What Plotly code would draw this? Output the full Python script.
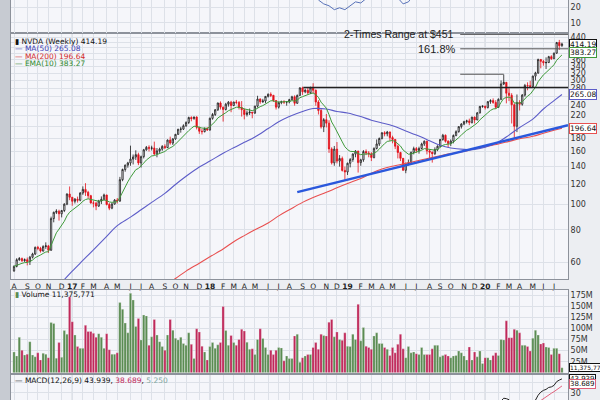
import numpy as np
import pandas as pd
import plotly.graph_objects as go

# ---- weekly NVDA candles, one entry per week from Aug 2016 to Jul 2020 ----
week_start = "2016-08-03"
first_open = 55.6

closes_2016 = [57.9, 61.4, 62.0, 60.9, 61.4, 60.4, 62.8, 64.6, 68.5, 67.9, 66.3,
               69.0, 69.4, 66.8, 88.4, 93.4, 94.3, 92.2, 94.9, 100.4, 109.8, 106.7]
highs_2016 = [58.4, 62.2, 62.9, 62.6, 62.1, 62.6, 63.5, 65.3, 69.0, 69.4, 68.8,
              69.8, 71.6, 70.0, 89.9, 94.0, 96.0, 95.6, 95.4, 101.2, 110.5, 117.4]
lows_2016 = [55.2, 57.4, 60.8, 60.2, 60.2, 58.4, 58.6, 62.1, 64.0, 66.8, 65.4,
             66.0, 67.6, 65.2, 66.4, 85.5, 92.0, 86.8, 89.3, 93.6, 99.5, 104.0]
volumes_2016 = [47, 38, 80, 51, 40, 42, 70, 40, 36, 45, 29,
                44, 42, 34, 113, 111, 33, 68, 35, 95, 87, 171]

closes_2017 = [103.0, 104.9, 103.9, 110.8, 114.4, 111.5, 108.2, 101.5, 101.3, 98.7,
               103.2, 104.8, 108.9, 100.1, 96.9, 100.5, 104.1, 103.2, 124.7, 136.4,
               141.8, 144.6, 149.6, 152.4, 155.6, 144.6, 152.9, 162.4, 166.0, 164.6,
               165.0, 156.6, 160.9, 163.4, 167.4, 165.6, 177.0, 172.4, 178.8, 186.2,
               194.8, 195.0, 200.9, 206.8, 216.1, 214.0, 217.0, 198.0, 191.5, 190.7,
               196.0, 193.5]
highs_2017 = [107.0, 106.0, 107.3, 111.7, 117.5, 120.9, 113.0, 109.0, 103.5, 102.5,
              104.3, 107.5, 110.2, 109.0, 101.5, 101.6, 105.0, 106.0, 127.8, 137.5,
              142.5, 146.0, 168.5, 155.8, 161.7, 158.3, 154.3, 163.7, 168.0, 169.0,
              168.4, 174.6, 165.0, 165.5, 169.2, 170.5, 178.0, 182.5, 180.0, 187.0,
              195.5, 199.0, 203.5, 209.0, 217.8, 218.5, 218.0, 218.5, 199.5, 195.3,
              198.0, 198.5]
lows_2017 = [99.0, 101.0, 101.8, 103.0, 109.0, 108.0, 105.5, 100.8, 97.6, 95.2,
             98.0, 100.5, 103.5, 99.3, 95.2, 96.0, 100.0, 101.0, 102.5, 123.0,
             133.8, 138.6, 141.0, 142.7, 148.5, 141.8, 138.8, 150.5, 161.0, 160.0,
             161.5, 155.0, 152.0, 158.0, 161.0, 163.5, 165.0, 170.0, 169.5, 177.5,
             185.5, 189.0, 193.5, 199.0, 204.0, 209.0, 212.0, 194.5, 187.0, 186.0,
             189.5, 192.0]
volumes_2017 = [115, 85, 59, 55, 55, 107, 93, 93, 89, 80, 88, 80, 55, 88, 52, 42, 42, 45,
                158, 143, 112, 90, 179, 164, 104, 122, 74, 130, 128, 62, 81, 120, 85, 70,
                59, 51, 85, 120, 96, 78, 74, 80, 66, 62, 90, 64, 32, 99, 92, 60, 47, 29]

closes_2018 = [214.6, 222.0, 231.4, 245.8, 236.9, 232.1, 243.1, 247.6, 240.4, 247.9,
               247.0, 236.0, 231.6, 222.0, 225.2, 226.6, 224.9, 239.0, 254.5, 248.5,
               250.1, 260.6, 265.4, 263.0, 251.2, 236.9, 246.5, 248.6, 247.8, 248.2,
               253.2, 259.6, 245.2, 262.8, 281.0, 271.4, 275.0, 269.0, 281.0, 275.0,
               248.0, 230.0, 199.0, 212.0, 205.6, 163.7, 144.7, 163.4, 147.0, 150.4,
               135.3, 133.5]
highs_2018 = [216.0, 225.0, 233.0, 246.5, 249.3, 238.0, 246.0, 250.0, 250.5, 248.5,
              252.5, 250.0, 250.0, 234.0, 230.0, 234.0, 227.0, 240.0, 262.0, 256.0,
              255.0, 261.0, 267.5, 270.0, 264.0, 252.0, 249.0, 251.0, 252.0, 250.0,
              255.0, 262.0, 263.0, 265.0, 282.5, 284.0, 279.0, 281.0, 284.0, 292.8,
              277.0, 252.0, 233.0, 215.0, 223.0, 211.0, 166.0, 168.0, 174.0, 155.0,
              153.0, 140.0]
lows_2018 = [192.5, 212.0, 219.0, 229.0, 232.0, 208.5, 230.0, 238.0, 226.5, 239.0,
             243.0, 232.0, 218.0, 212.6, 218.0, 221.0, 214.7, 223.0, 236.0, 244.0,
             246.0, 245.5, 258.0, 259.0, 248.0, 232.0, 234.0, 243.0, 243.5, 240.0,
             245.0, 252.0, 240.0, 244.0, 262.0, 264.0, 268.0, 265.0, 266.0, 268.0,
             240.0, 222.0, 196.0, 190.0, 198.0, 158.0, 142.6, 141.0, 144.0, 140.0,
             134.0, 124.5]
volumes_2018 = [59, 68, 55, 63, 68, 149, 95, 62, 84, 68, 62, 75, 98, 94, 69, 53, 54, 41,
                75, 99, 77, 57, 41, 51, 41, 51, 57, 56, 27, 38, 32, 32, 83, 87, 24, 34,
                38, 41, 41, 57, 68, 53, 87, 84, 83, 114, 120, 81, 92, 75, 73, 90]

closes_2019 = [144.2, 149.0, 156.4, 160.6, 145.0, 148.6, 159.9, 158.0, 156.8, 151.7,
               164.4, 171.0, 179.6, 188.9, 187.2, 190.1, 180.9, 178.0, 167.7, 158.6,
               150.6, 135.5, 143.5, 144.8, 158.7, 164.2, 161.5, 164.3, 171.0, 175.2,
               160.9, 159.0, 157.0, 162.8, 167.6, 177.9, 184.7, 175.0, 171.9, 175.4,
               184.4, 190.7, 199.4, 204.0, 208.4, 209.8, 206.6, 216.9, 211.6, 225.1,
               238.4, 239.0]
highs_2019 = [145.0, 151.0, 157.5, 162.0, 161.0, 150.0, 162.0, 163.0, 160.5, 159.0,
              166.0, 178.0, 181.0, 189.5, 191.5, 192.0, 191.0, 184.0, 178.5, 170.0,
              159.5, 151.0, 145.0, 149.0, 160.0, 167.0, 166.5, 167.0, 173.0, 176.5,
              176.0, 163.0, 160.0, 166.0, 169.0, 179.0, 187.0, 186.0, 177.0, 178.0,
              186.0, 193.0, 200.0, 205.5, 210.0, 212.0, 214.0, 217.5, 218.0, 227.0,
              239.5, 240.5]
lows_2019 = [130.0, 139.0, 146.0, 152.0, 132.8, 141.0, 146.0, 155.0, 152.0, 147.0,
             150.5, 163.0, 168.0, 178.0, 183.0, 183.0, 176.0, 172.0, 163.5, 150.5,
             147.0, 135.0, 132.0, 141.5, 143.0, 156.0, 158.0, 157.0, 163.0, 168.0,
             156.0, 150.0, 145.0, 155.0, 160.5, 166.0, 176.0, 173.0, 165.5, 168.0,
             172.0, 183.0, 189.0, 196.0, 202.0, 205.0, 202.0, 205.0, 205.0, 211.0,
             224.0, 235.5]
volumes_2019 = [60, 59, 87, 75, 154, 72, 102, 60, 57, 53, 83, 90, 66, 66, 57, 53, 39, 57,
                45, 64, 87, 54, 34, 59, 45, 47, 43, 41, 57, 41, 41, 41, 54, 62, 62, 36,
                39, 41, 38, 34, 38, 39, 49, 45, 38, 29, 58, 29, 47, 36, 49, 21]

closes_2020 = [236.1, 248.7, 251.0, 246.9, 236.6, 254.0, 290.9, 295.0, 268.0, 263.0,
               242.0, 200.0, 247.0, 243.0, 263.6, 287.0, 286.6, 284.6, 311.8, 320.7,
               361.1, 355.3, 351.0, 351.5, 370.3, 363.5, 382.0, 419.6, 408.1, 414.19]
highs_2020 = [240.0, 250.0, 254.0, 256.0, 252.0, 256.0, 300.0, 316.3, 296.0, 282.0,
              268.0, 245.0, 265.0, 252.0, 266.0, 291.0, 295.0, 299.0, 313.0, 324.0,
              364.0, 363.0, 360.0, 368.0, 373.0, 375.0, 384.0, 422.0, 429.5, 419.0]
lows_2020 = [232.0, 234.0, 244.0, 244.0, 233.0, 236.0, 252.0, 288.0, 245.0, 250.0,
             205.0, 180.7, 190.0, 230.0, 240.0, 260.0, 275.0, 281.0, 282.0, 300.0,
             318.0, 334.0, 342.0, 332.0, 350.0, 360.0, 363.0, 380.0, 393.0, 404.0]
volumes_2020 = [34, 34, 29, 39, 45, 39, 75, 74, 117, 79, 79, 98, 96, 90, 62, 62, 59, 49,
                78, 96, 85, 65, 67, 58, 57, 41, 55, 55, 43, 11.375771]

# moving averages (they need history before the first candle)
ma50_dates = ["2016-11-02", "2016-12-14", "2017-01-04", "2017-02-01", "2017-03-01",
              "2017-04-05", "2017-05-03", "2017-06-07", "2017-07-05", "2017-08-02",
              "2017-09-06", "2017-10-04", "2017-11-01", "2017-12-06", "2018-01-03",
              "2018-02-07", "2018-03-07", "2018-04-04", "2018-05-02", "2018-06-06",
              "2018-07-04", "2018-08-01", "2018-09-05", "2018-10-03", "2018-11-07",
              "2018-12-05", "2019-01-02", "2019-02-06", "2019-03-06", "2019-04-03",
              "2019-05-01", "2019-06-05", "2019-07-03", "2019-08-07", "2019-09-04",
              "2019-10-02", "2019-11-06", "2019-12-04", "2020-01-01", "2020-02-05",
              "2020-03-04", "2020-04-01", "2020-05-06", "2020-06-03", "2020-07-01",
              "2020-07-22"]
ma50_values = [44, 51.5, 55.5, 61, 67, 75.5, 83, 89.5, 95.5, 102, 110.5, 119.5, 128.5,
               139.5, 147, 157.5, 165.5, 173.5, 182, 196, 208, 218, 228, 234, 233, 228,
               225, 218, 211, 206, 201, 192, 185, 176, 169, 165, 163, 163, 166, 174,
               185, 198, 213, 233, 251, 265.08]

ma200_dates = ["2017-09-06", "2017-10-04", "2017-11-01", "2017-12-06", "2018-01-03",
               "2018-02-07", "2018-03-07", "2018-04-04", "2018-05-02", "2018-06-06",
               "2018-07-04", "2018-08-01", "2018-09-05", "2018-10-03", "2018-11-07",
               "2018-12-05", "2019-01-02", "2019-02-06", "2019-03-06", "2019-04-03",
               "2019-05-01", "2019-06-05", "2019-07-03", "2019-08-07", "2019-09-04",
               "2019-10-02", "2019-11-06", "2019-12-04", "2020-01-01", "2020-02-05",
               "2020-03-04", "2020-04-01", "2020-05-06", "2020-06-03", "2020-07-01",
               "2020-07-22"]
ma200_values = [49, 52, 55.5, 59.5, 63, 67.5, 72, 76, 80, 85, 90.5, 95.5, 102, 106.5,
                111.5, 116, 120.5, 126, 132, 137, 140.5, 144, 147, 151, 154, 157, 160,
                164, 167, 171, 175, 179, 183, 188, 193, 196.64]

# indicator panel above (only its low part is in view)
rsi_dates = ["2018-10-03", "2018-10-17", "2018-10-31", "2018-11-14", "2018-11-28",
             "2018-12-12", "2018-12-26", "2019-01-09", "2019-01-23", "2019-02-06",
             "2019-02-27", "2019-05-15", "2019-05-29", "2019-06-12", "2019-06-26"]
rsi_values = [30, 24.7, 22.2, 21.0, 18.5, 19.7, 18.5, 21.0, 23.5, 22.8,
              27, 26, 22.2, 23.5, 28]

# drawn levels
level_2x = 451
level_fib = 397
level_feb_high = 317
level_resist = 282
trend_dates = ["2018-08-22", "2020-08-07"]
trend_values = [111.7, 202]

GREEN = "#5a8c52"
RED_VOL = "#c0285a"


def build_figure():
    closes = closes_2016 + closes_2017 + closes_2018 + closes_2019 + closes_2020
    highs = highs_2016 + highs_2017 + highs_2018 + highs_2019 + highs_2020
    lows = lows_2016 + lows_2017 + lows_2018 + lows_2019 + lows_2020
    volumes = volumes_2016 + volumes_2017 + volumes_2018 + volumes_2019 + volumes_2020
    volumes = [v * 1e6 for v in volumes]
    dates = pd.date_range(week_start, periods=len(closes), freq="7D")
    opens = [first_open] + closes[:-1]

    close_s = pd.Series(closes)
    ema10 = close_s.ewm(span=10, adjust=False).mean()
    macd = close_s.ewm(span=12, adjust=False).mean() - close_s.ewm(span=26, adjust=False).mean()
    signal = macd.ewm(span=9, adjust=False).mean()

    vol_colors = [GREEN if c >= o else RED_VOL for o, c in zip(opens, closes)]

    # month ticks at the first week of each month
    tick_vals, tick_text = [], []
    prev = None
    for d in dates:
        if d.month != prev:
            tick_vals.append(d)
            tick_text.append("<b>%s</b>" % d.strftime("%y") if d.month == 1 else "JFMAMJJASOND"[d.month - 1])
            prev = d.month
    years = [d for d in tick_vals if d.month == 1]

    fig = go.Figure()

    # price panel
    fig.add_trace(go.Candlestick(x=dates, open=opens, high=highs, low=lows, close=closes,
                                 increasing=dict(line=dict(color="#1a1a1a", width=0.8), fillcolor="#f7f8fb"),
                                 decreasing=dict(line=dict(color="#e3121b", width=0.8), fillcolor="#e3121b"),
                                 whiskerwidth=0, xaxis="x", yaxis="y", showlegend=False))
    fig.add_trace(go.Scatter(x=ma200_dates, y=ma200_values, mode="lines", line=dict(color="#e85050", width=1.1, shape="spline"),
                             xaxis="x", yaxis="y", showlegend=False))
    fig.add_trace(go.Scatter(x=ma50_dates, y=ma50_values, mode="lines", line=dict(color="#5c5cc8", width=1.1, shape="spline"),
                             xaxis="x", yaxis="y", showlegend=False))
    fig.add_trace(go.Scatter(x=dates, y=ema10, mode="lines", line=dict(color="#3f9a3a", width=1),
                             xaxis="x", yaxis="y", showlegend=False))
    fig.add_trace(go.Scatter(x=trend_dates, y=trend_values, mode="lines", line=dict(color="#2a58dc", width=2.5),
                             xaxis="x", yaxis="y", showlegend=False))
    end_date = "2020-08-07"
    for x0, x1, lvl, col, w in [("2018-09-07", end_date, level_resist, "#222222", 1.6),
                                ("2019-10-27", "2020-02-19", level_feb_high, "#555555", 1),
                                ("2019-10-27", end_date, level_fib, "#555555", 1),
                                ("2019-10-27", end_date, level_2x, "#555555", 1)]:
        fig.add_trace(go.Scatter(x=[x0, x1], y=[lvl, lvl], mode="lines", line=dict(color=col, width=w),
                                 xaxis="x", yaxis="y", showlegend=False))

    # volume panel
    fig.add_trace(go.Bar(x=dates, y=volumes, marker=dict(color=vol_colors, line=dict(color="#f0f0f0", width=0.3)),
                         xaxis="x2", yaxis="y2", showlegend=False))

    # MACD panel
    fig.add_trace(go.Scatter(x=dates, y=macd, mode="lines", line=dict(color="#222222", width=1),
                             xaxis="x3", yaxis="y3", showlegend=False))
    fig.add_trace(go.Scatter(x=dates, y=signal, mode="lines", line=dict(color="#e0607a", width=1),
                             xaxis="x3", yaxis="y3", showlegend=False))

    # top indicator panel
    fig.add_trace(go.Scatter(x=rsi_dates, y=rsi_values, mode="lines", line=dict(color="#5872b8", width=1),
                             xaxis="x4", yaxis="y4", showlegend=False))

    grid = "#dde1e8"
    tick_font = dict(family="DejaVu Sans", size=8, color="#333333")
    xdom = [11 / 600, 568 / 600]
    xr = ["2016-07-26", end_date]
    base_x = dict(domain=xdom, range=xr, type="date", tickvals=tick_vals, showgrid=True, gridcolor=grid,
                  gridwidth=1, showline=True, linecolor="#8d929b", mirror=True, zeroline=False,
                  rangeslider=dict(visible=False), fixedrange=True, automargin=False)
    base_y = dict(side="right", showgrid=True, gridcolor=grid, showline=True, linecolor="#8d929b",
                  mirror=True, zeroline=False, tickfont=tick_font, ticks="", fixedrange=True,
                  automargin=False)

    price_ticks = [60, 80, 100, 120, 140, 160, 180, 200, 220, 240, 260, 280, 300, 320, 340, 360, 380, 400, 420, 440]
    hidden = {200, 260, 380, 400, 420}
    price_text = ["" if v in hidden else str(v) for v in price_ticks]

    fig.update_layout(
        width=600, height=400, margin=dict(l=0, r=0, t=0, b=0, pad=0),
        paper_bgcolor="#eceef2", plot_bgcolor="#f5f6fa",
        bargap=0.12,
        xaxis=dict(base_x, anchor="y", ticktext=tick_text, showticklabels=True, tickangle=0,
                   tickfont=dict(family="DejaVu Sans", size=7.5, color="#222222"),
                   ticks="outside", ticklen=0, tickcolor="#8d929b"),
        yaxis=dict(base_y, domain=[(400 - 279) / 400, (400 - 33.4) / 400], anchor="x", type="log",
                   range=[np.log10(51.77), np.log10(455)], tickvals=price_ticks, ticktext=price_text),
        xaxis2=dict(base_x, anchor="y2", matches="x", showticklabels=False),
        yaxis2=dict(base_y, domain=[(400 - 372.8) / 400, (400 - 290) / 400], anchor="x2",
                    range=[0, 186.3e6], tickvals=[25e6, 50e6, 75e6, 100e6, 125e6, 150e6, 175e6],
                    ticktext=["25M", "50M", "75M", "100M", "125M", "150M", "175M"]),
        xaxis3=dict(base_x, anchor="y3", matches="x", showticklabels=False),
        yaxis3=dict(base_y, domain=[0, (400 - 375) / 400], anchor="x3", range=[22.9, 47.9],
                    tickvals=[30, 40], ticktext=["30", ""]),
        xaxis4=dict(base_x, anchor="y4", matches="x", showticklabels=False),
        yaxis4=dict(base_y, domain=[(400 - 33.4) / 400, 1], anchor="x4", range=[3.3, 24.7],
                    tickvals=[10, 20], ticktext=["10", "20"]),
    )

    # darker year separators in every panel
    for yr in ["y", "y2", "y3", "y4"]:
        for d in years:
            fig.add_shape(type="line", xref="x", yref=yr + " domain", x0=d, x1=d, y0=0, y1=1,
                          line=dict(color="#b7bcc5", width=1), layer="below")
    # grey frame strip on the left
    fig.add_shape(type="rect", xref="paper", yref="paper", x0=0, x1=10 / 600, y0=0, y1=1,
                  fillcolor="#c7cbd2", line=dict(width=0))

    # right-hand value boxes
    def box(text, yval, yref, color, log=False, size=7.5):
        fig.add_annotation(xref="paper", x=569 / 600, xanchor="left", yref=yref,
                           y=np.log10(yval) if log else yval, text=text, showarrow=False,
                           font=dict(family="DejaVu Sans", size=size, color="#111111"),
                           bgcolor="#ffffff", bordercolor=color, borderwidth=1, borderpad=0)

    box("414.19", closes[-1], "y", "#111111", log=True)
    box("383.27", 383.27, "y", "#3f9a3a", log=True)
    box("265.08", 265.08, "y", "#5c5cc8", log=True)
    box("196.64", 196.64, "y", "#e85050", log=True)
    box("11,375,771", volumes[-1], "y2", "#111111", size=6)
    box("43.939", 43.939, "y3", "#111111", size=7)
    box("38.689", 38.689, "y3", "#e0607a", size=7)

    # level labels
    fig.add_annotation(xref="x", x="2019-10-14", xanchor="right", yref="y", y=np.log10(level_2x),
                       text="2-Times Range at $451", showarrow=False,
                       font=dict(family="Liberation Sans", size=10.5, color="#222222"))
    fig.add_annotation(xref="x", x="2019-10-22", xanchor="right", yref="y", y=np.log10(level_fib),
                       text="161.8%", showarrow=False,
                       font=dict(family="Liberation Sans", size=11, color="#222222"))

    # panel legends
    legend_rows = [
        (41, '<span style="color:#111">▮</span> NVDA (Weekly) 414.19', "#111111"),
        (48.5, "— MA(50) 265.08", "#3c3cb4"),
        (56, "— MA(200) 196.64", "#d42a2a"),
        (63.5, "— EMA(10) 383.27", "#2f8a2f"),
        (294, '<span style="color:#5a8c52">▮</span> Volume 11,375,771', "#111111"),
        (380, '— MACD(12,26,9) 43.939, <span style="color:#c0285a">38.689</span>, '
              '<span style="color:#7fa7a0">5.250</span>', "#111111"),
    ]
    for ypix, text, color in legend_rows:
        fig.add_annotation(xref="paper", x=13 / 600, xanchor="left", yref="paper", y=1 - ypix / 400,
                           yanchor="middle", text=text, showarrow=False,
                           font=dict(family="DejaVu Sans", size=7.5, color=color))
    return fig


if __name__ == "__main__":
    fig = build_figure()
    # the page body has a default margin; remove it so the figure sits at the top-left corner
    fig.write_html("out.html", config={"displayModeBar": False},
                   post_script="document.body.style.margin='0';document.body.style.padding='0';")
